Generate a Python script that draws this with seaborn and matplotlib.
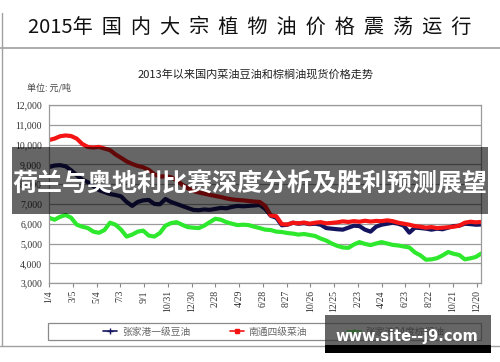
import pandas as pd
import matplotlib.pyplot as plt
import seaborn as sns
from matplotlib.patches import Rectangle
from matplotlib.lines import Line2D

sns.set_style("white")
plt.rcParams['font.family'] = ['Noto Sans CJK SC', 'DejaVu Sans']

banner = "2015年国内大宗植物油价格震荡运行"
subtitle = "2013年以来国内菜油豆油和棕榈油现货价格走势"
unit_label = "单位: 元/吨"
overlay_text = "荷兰与奥地利比赛深度分析及胜利预测展望"
watermark = "www.site--j9.com"

series_names = ['张家港一级豆油', '南通四级菜油', '张家港24度棕榈油']

# price samples, every 14 days from 2013-01-04
soy = [8860, 8940, 8960, 8900, 8700, 8450, 8220, 8100, 7900, 7700,
       7600, 7500, 7450, 7380, 7100, 6900, 7100, 7180, 7200, 7000,
       6980, 7250, 7100, 7000, 6900, 6800, 6700, 6680, 6720, 6700,
       6750, 6800, 6780, 6850, 6900, 6880, 6900, 6920, 6950, 6750,
       6400, 6300, 5920, 5950, 6050, 6000, 6030, 5980, 6000, 5950,
       5780, 5750, 5720, 5700, 5800, 5900, 5880, 5700, 5600, 5850,
       5950, 6000, 6050, 6000, 5900, 5550, 5800, 5780, 5750, 5700,
       5750, 5720, 5800, 5880, 5900, 6000, 5980, 5950, 5960]
rapeseed = [10230, 10300, 10420, 10460, 10430, 10300, 10030, 9880, 9850, 9880,
            9800, 9720, 9500, 9330, 9150, 9020, 8920, 8850, 8720, 8500,
            8380, 8400, 8350, 8200, 7980, 7800, 7650, 7580, 7520, 7460,
            7400, 7350, 7280, 7230, 7200, 7180, 7150, 7120, 7100, 6900,
            6420, 6380, 5980, 5960, 6050, 6020, 6060, 6000, 6050, 6080,
            6020, 6040, 6070, 6120, 6090, 6130, 6100, 6150, 6110, 6140,
            6130, 6170, 6130, 6050, 6000, 5950, 5880, 5850, 5800, 5830,
            5780, 5800, 5820, 5850, 5900, 6050, 6100, 6070, 6090]
palm = [6300, 6200, 6350, 6440, 6300, 5950, 5850, 5780, 5600, 5540,
        5680, 6050, 5950, 5700, 5350, 5450, 5600, 5650, 5400, 5350,
        5530, 5900, 6030, 6080, 5950, 5830, 5800, 5780, 5900, 6080,
        6250, 6200, 6080, 6000, 5930, 5950, 5930, 5850, 5780, 5700,
        5680, 5600, 5580, 5530, 5500, 5450, 5480, 5430, 5380, 5250,
        5150, 5000, 4880, 4800, 4780, 4950, 5070, 4980, 4920, 5000,
        5070, 5000, 4930, 4900, 4850, 4800, 4550, 4400, 4180, 4200,
        4260, 4400, 4570, 4480, 4420, 4200, 4250, 4320, 4500]

tick_labels = ['1/4', '3/5', '5/4', '7/3', '9/1', '10/31', '12/30', '2/28', '4/29',
               '6/28', '8/27', '10/26', '12/25', '2/23', '4/24', '6/23', '8/22',
               '10/21', '12/20']

dates = pd.date_range('2013-01-04', periods=len(soy), freq='14D')
df = pd.DataFrame({
    'date': list(dates) * 3,
    'price': soy + rapeseed + palm,
    'oil': [series_names[0]] * len(soy) + [series_names[1]] * len(rapeseed)
           + [series_names[2]] * len(palm),
})

colors = {series_names[0]: '#14145e', series_names[1]: '#f51414', series_names[2]: '#2ee82e'}

fig = plt.figure(figsize=(5, 3.62), dpi=100)
ax = fig.add_axes([0.098, 0.218, 0.864, 0.492])

sns.lineplot(data=df, x='date', y='price', hue='oil', hue_order=series_names,
             palette=colors, linewidth=3, ax=ax, legend=False)

tick_dates = pd.date_range('2013-01-04', periods=len(tick_labels), freq='60D')
ax.set_xticks(tick_dates)
ax.set_xticklabels(tick_labels, rotation=90, family='Liberation Serif', fontsize=7, color='#333333')
ax.set_xlim(pd.Timestamp('2013-01-04'), pd.Timestamp('2015-12-31'))
ax.set_ylim(3000, 12000)
ax.set_yticks(range(3000, 12001, 1000))
ax.set_yticklabels([f'{v:,}' for v in range(3000, 12001, 1000)],
                   family='Liberation Serif', fontsize=7, color='#333333')
ax.set_xlabel('')
ax.set_ylabel('')
ax.yaxis.grid(True, color='#9a9a9a', linewidth=0.9)
ax.tick_params(axis='x', length=3, width=0.8, color='#888888', pad=2, bottom=True)
ax.tick_params(axis='y', length=0, pad=5)
for s in ax.spines.values():
    s.set_color('#9a9a9a')
    s.set_linewidth(0.9)

handles = [Line2D([], [], color=colors[series_names[0]], lw=1.2, marker='+', ms=5),
           Line2D([], [], color=colors[series_names[1]], lw=1.2, marker='s', ms=2.5),
           Line2D([], [], color=colors[series_names[2]], lw=1.2, marker='^', ms=3)]
ax.legend(handles, series_names, loc='center', bbox_to_anchor=(0.548, 0.084),
          bbox_transform=fig.transFigure, ncol=3, frameon=False, fontsize=7,
          columnspacing=4.1, handlelength=1.4, handletextpad=0.5, labelcolor='#666666')
fig.add_artist(Rectangle((0.096, 0.061), 0.866, 0.047, transform=fig.transFigure,
                         facecolor='none', edgecolor='#8a8a8a', lw=0.9))

# outer frame of the screenshot
fig.add_artist(Line2D([0.003, 0.003], [0.964, 0.044], transform=fig.transFigure, color='#a0a0a0', lw=1))
fig.add_artist(Line2D([0, 1], [0.044, 0.044], transform=fig.transFigure, color='#a0a0a0', lw=1))
fig.add_artist(Line2D([0, 1], [0.867, 0.867], transform=fig.transFigure, color='#a0a0a0', lw=1.2))

fig.text(0.5, 0.925, banner[:4] + "  ".join(banner[4:]), ha='center', va='center',
         fontsize=14.5, color='#111111')
fig.text(0.512, 0.795, subtitle, ha='center', va='center', fontsize=8, color='#222222')
fig.text(0.054, 0.757, unit_label, ha='left', va='center', fontsize=6.5, color='#444444')

# overlay band and watermark
fig.add_artist(Rectangle((0.024, 0.409), 0.952, 0.185, transform=fig.transFigure,
                         facecolor='black', alpha=0.6, edgecolor='none', zorder=10))
fig.text(0.5, 0.492, overlay_text, ha='center', va='center', fontsize=18,
         fontweight='bold', color='white', zorder=11)
fig.add_artist(Rectangle((0.65, 0.025), 0.332, 0.105, transform=fig.transFigure,
                         facecolor='#333333', alpha=0.75, edgecolor='none', zorder=10))
fig.add_artist(Rectangle((0.65, 0.025), 0.332, 0.022, transform=fig.transFigure,
                         facecolor='black', edgecolor='none', zorder=10))
fig.text(0.814, 0.0718, watermark, ha='center', va='center', fontsize=10.5,
         fontweight='bold', color='white', family='DejaVu Sans', zorder=11)

fig.savefig('out.png', dpi=100)
